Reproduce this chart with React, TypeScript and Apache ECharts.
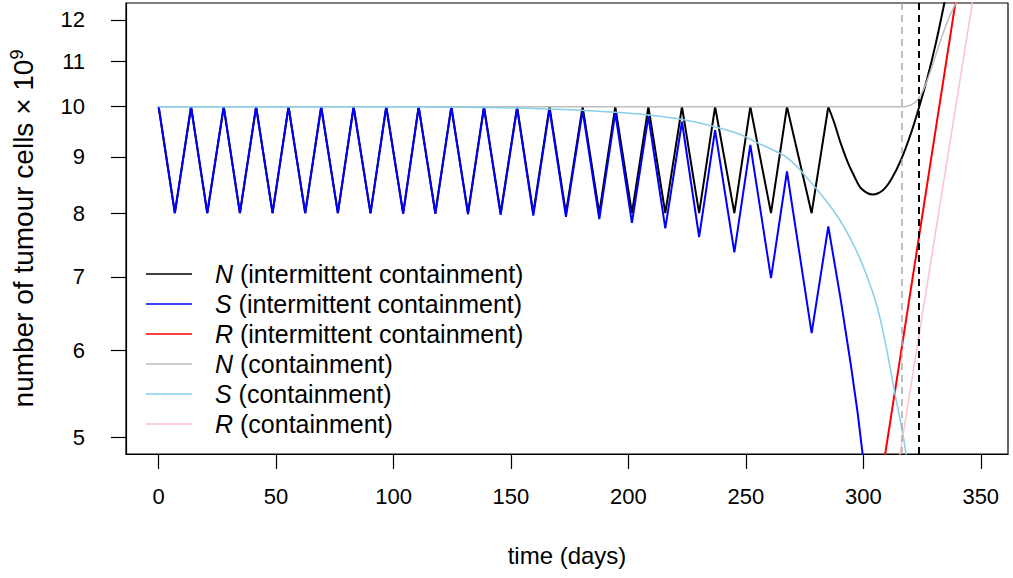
import React, { useEffect, useRef } from "react";
import * as echarts from "echarts";

// ---- axis ----
const X_MIN = -13.9;
const X_MAX = 361.6;
const Y_MIN = 4.828;
const Y_MAX = 12.43;
const xTicks = [0, 50, 100, 150, 200, 250, 300, 350];
const yTicks = [5, 6, 7, 8, 9, 10, 11, 12];

// ---- N (intermittent containment): treatment cycles ----
const nIntDays = [
  0, 6.9, 13.8, 20.7, 27.7, 34.6, 41.5, 48.5, 55.3, 62.4, 69.2, 76.3, 83, 90.2,
  96.9, 104.1, 110.7, 117.8, 124.6, 131.7, 138.5, 145.6, 152.6, 159.5, 166.4,
  173.4, 180.5, 187.6, 194.4, 201.5, 208.5, 215.7, 222.8, 230.1, 236.9, 245.1,
  251.9, 260.7, 267.5, 278, 285.1,
];
const nIntValues = [
  10, 8, 10, 8, 10, 8, 10, 8, 10, 8, 10, 8, 10, 8, 10, 8, 10, 8, 10, 8, 10, 8,
  10, 8, 10, 8, 10, 8, 10, 8, 10, 8, 10, 8, 10, 8, 10, 8, 10, 8, 10,
];
// ---- N (intermittent containment): after last cycle ----
const nIntTailDays = [
  285.1, 287.7, 290.4, 293.3, 296.2, 299, 304, 308.2, 311.8, 316, 320.3, 323.8,
  327.4, 330.9, 334.5, 336,
];
const nIntTailValues = [
  10, 9.66, 9.26, 8.91, 8.64, 8.43, 8.32, 8.39, 8.58, 8.94, 9.46, 10.0, 10.65,
  11.43, 12.43, 12.95,
];

// ---- S (intermittent containment) ----
const sIntDays = [
  0, 6.9, 13.8, 20.7, 27.7, 34.6, 41.5, 48.5, 55.3, 62.4, 69.2, 76.3, 83, 90.2,
  96.9, 104.1, 110.7, 117.8, 124.6, 131.7, 138.5, 145.6, 152.6, 159.5, 166.4,
  173.4, 180.5, 187.6, 194.4, 201.5, 208.5, 215.7, 222.8, 230.1, 236.9, 245.1,
  251.9, 260.7, 267.5, 278, 285.1, 290.4, 294.8, 297.6, 299.7, 301,
];
const sIntValues = [
  10, 8, 10, 8, 10, 8, 10, 8, 10, 8, 10, 8, 10, 7.995, 10, 7.99, 9.995, 7.99,
  9.99, 7.98, 9.98, 7.97, 9.97, 7.96, 9.95, 7.94, 9.92, 7.9, 9.87, 7.84, 9.8,
  7.75, 9.69, 7.61, 9.52, 7.37, 9.23, 6.98, 8.73, 6.22, 7.78, 6.67, 5.8, 5.26,
  4.83, 4.55,
];

// ---- R (intermittent containment) ----
const rIntDays = [308, 341];
const rIntValues = [4.63, 13.16];

// ---- N (containment) ----
const nConDays = [0, 317.4, 320.3, 323.1, 325.9, 328.8, 331.6, 334.5, 337.3, 339.4, 340.5];
const nConValues = [10, 10, 10.04, 10.14, 10.4, 10.8, 11.27, 11.75, 12.17, 12.43, 12.65];

// ---- S (containment) ----
const sConDays = [
  0, 100, 130, 150, 165, 180, 194, 208.3, 222.5, 236.6, 248, 253.6, 267.8,
  279.2, 289.1, 296.2, 301.9, 306.1, 309.7, 313.2, 316.8, 318.3, 319,
];
const sConValues = [
  10, 10, 9.99, 9.975, 9.955, 9.925, 9.885, 9.83, 9.74, 9.59, 9.43, 9.3, 8.98,
  8.46, 7.94, 7.46, 6.98, 6.55, 6.05, 5.52, 5.04, 4.8, 4.6,
];

// ---- R (containment) ----
const rConDays = [314.6, 347.6];
const rConValues = [4.68, 12.89];

// ---- vertical reference lines ----
const failContainment = 316.3;
const failIntermittent = 323.8;

const NAMES = [
  "N (intermittent containment)",
  "S (intermittent containment)",
  "R (intermittent containment)",
  "N (containment)",
  "S (containment)",
  "R (containment)",
];

const FONT = "Liberation Sans, Arial, Helvetica, sans-serif";

const toPairs = (days: number[], vals: number[]) =>
  days.map((d, i) => [d, Math.log(vals[i])]);

export default function App() {
  const ref = useRef<HTMLDivElement>(null);

  useEffect(() => {
    if (!ref.current) return;
    const chart = echarts.init(ref.current, null, { renderer: "svg" });

    const mk = (
      name: string,
      days: number[],
      vals: number[],
      color: string,
      width: number,
      smooth: number | boolean,
      vline?: { x: number; color: string; width: number; dash: number[] }
    ) => ({
      name,
      type: "line",
      data: toPairs(days, vals),
      symbol: "none",
      showSymbol: false,
      clip: true,
      smooth,
      lineStyle: { color, width },
      itemStyle: { color },
      emphasis: { disabled: true },
      markLine: vline
        ? {
            silent: true,
            symbol: "none",
            label: { show: false },
            lineStyle: { color: vline.color, width: vline.width, type: vline.dash },
            data: [{ xAxis: vline.x }],
          }
        : undefined,
    });

    chart.setOption({
      animation: false,
      backgroundColor: "#ffffff",
      textStyle: { fontFamily: FONT },
      grid: {
        left: 124,
        right: 5,
        top: 3,
        bottom: 124,
        show: true,
        borderColor: "#000",
        borderWidth: 1.2,
        backgroundColor: "transparent",
      },
      xAxis: {
        type: "value",
        min: X_MIN,
        max: X_MAX,
        name: "time (days)",
        nameLocation: "middle",
        nameGap: 89,
        nameTextStyle: { fontSize: 24, color: "#000", fontFamily: FONT },
        axisLine: { show: true, onZero: false, lineStyle: { color: "#000", width: 1.2 } },
        axisTick: {
          show: true,
          length: 15,
          customValues: xTicks,
          lineStyle: { color: "#000", width: 1.2 },
        },
        axisLabel: {
          customValues: xTicks,
          margin: 31,
          fontSize: 22,
          color: "#000",
          fontFamily: FONT,
        },
        splitLine: { show: false },
      },
      yAxis: {
        type: "value",
        min: Math.log(Y_MIN),
        max: Math.log(Y_MAX),
        name: "{a|number of tumour cells × 10}{s|9}",
        nameLocation: "middle",
        nameGap: 88,
        nameTextStyle: {
          color: "#000",
          fontFamily: FONT,
          rich: {
            a: { fontSize: 28, fontFamily: FONT, color: "#000", lineHeight: 30 },
            s: {
              fontSize: 18,
              fontFamily: FONT,
              color: "#000",
              verticalAlign: "top",
              lineHeight: 18,
            },
          },
        },
        axisLine: { show: true, onZero: false, lineStyle: { color: "#000", width: 1.2 } },
        axisTick: {
          show: true,
          length: 15,
          customValues: yTicks.map((v) => Math.log(v)),
          lineStyle: { color: "#000", width: 1.2 },
        },
        axisLabel: {
          customValues: yTicks.map((v) => Math.log(v)),
          formatter: (v: number) => String(Math.round(Math.exp(v))),
          margin: 41,
          fontSize: 22,
          color: "#000",
          fontFamily: FONT,
        },
        splitLine: { show: false },
      },
      legend: {
        show: true,
        data: NAMES,
        orient: "vertical",
        left: 146,
        top: 259,
        padding: 0,
        itemWidth: 46,
        itemHeight: 1.6,
        itemGap: 0,
        icon: "rect",
        selectedMode: false,
        formatter: (name: string) => {
          const i = name.indexOf(" ");
          return `{i|${name.slice(0, i)}}{t|${name.slice(i)}}`;
        },
        textStyle: {
          fontSize: 25,
          color: "#000",
          fontFamily: FONT,
          lineHeight: 30,
          padding: [0, 0, 0, 18],
          rich: {
            i: { fontStyle: "italic", fontSize: 25, fontFamily: FONT, color: "#000", lineHeight: 30 },
            t: { fontSize: 25, fontFamily: FONT, color: "#000", lineHeight: 30 },
          },
        },
      },
      series: [
        mk(NAMES[0], nIntDays, nIntValues, "#000000", 2, false, {
          x: failIntermittent,
          color: "#000000",
          width: 2,
          dash: [7, 5],
        }),
        mk(NAMES[0], nIntTailDays, nIntTailValues, "#000000", 2, 0.3),
        mk(NAMES[1], sIntDays, sIntValues, "#0000ff", 2, false),
        mk(NAMES[2], rIntDays, rIntValues, "#ff0000", 2, false),
        mk(NAMES[3], nConDays, nConValues, "#bebebe", 1.5, 0.3, {
          x: failContainment,
          color: "#aaaaaa",
          width: 1.5,
          dash: [7, 5],
        }),
        mk(NAMES[4], sConDays, sConValues, "#87ceeb", 1.5, 0.3),
        mk(NAMES[5], rConDays, rConValues, "#ffc0cb", 1.5, false),
      ],
    });

    return () => chart.dispose();
  }, []);

  return (
    <div
      ref={ref}
      style={{ position: "fixed", left: 0, top: 0, width: 1013, height: 578, background: "#fff" }}
    />
  );
}
